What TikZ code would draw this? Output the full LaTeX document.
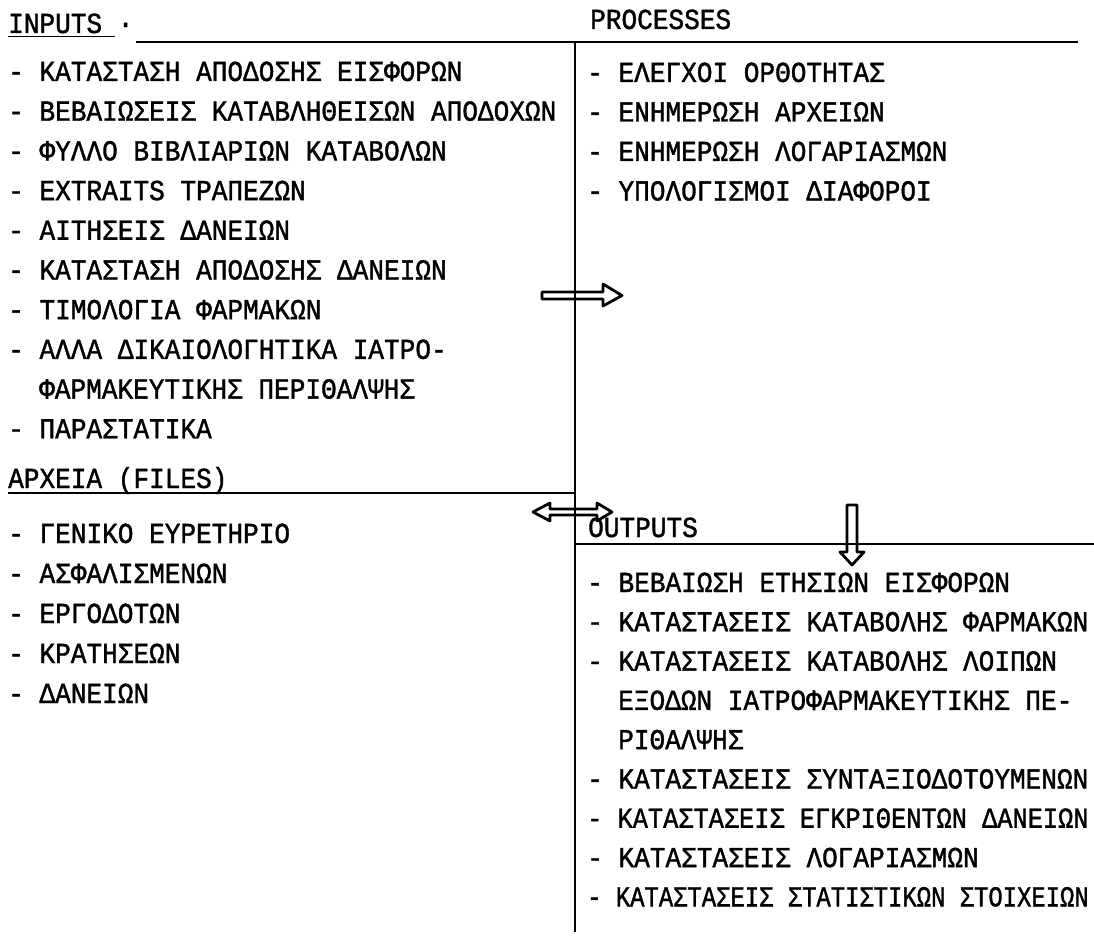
\documentclass[tikz,border=0pt]{standalone}
\usepackage{fontspec}
\newfontfamily\typewriter[FakeBold=1.3,FakeStretch=0.9]{Liberation Mono}
\tikzset{
  item/.style={anchor=base west, inner sep=0pt, font=\typewriter\fontsize{29}{34}\selectfont},
  rule/.style={line width=2pt},
  hollow arrow/.style={line width=2.8pt, line join=round},
}

\begin{document}
\begin{tikzpicture}[x=1pt,y=-1pt]
\useasboundingbox (0,0) rectangle (1094,936);
% Define coordinates
\coordinate (TL) at (136,42);
\coordinate (TR) at (1078,42);
\coordinate (VT) at (575,42);
\coordinate (VB) at (575,932);
%
\coordinate (FL) at (8,493);
\coordinate (FR) at (575,493);
\coordinate (OL) at (575,544);
\coordinate (OR) at (1094,544);
% Draw frame lines
\draw[rule] (TL) -- (TR);
\draw[rule] (VT) -- (VB);
\draw[rule] (FL) -- (FR);
\draw[rule] (OL) -- (OR);
% Inputs
\node[item] (inputs) at (8,33) {INPUTS ·};
\draw[line width=1pt] ([yshift=-4pt]inputs.base west) -- ++(107,0);
\node[item] (in1) at (8,81) {- ΚΑΤΑΣΤΑΣΗ ΑΠΟΔΟΣΗΣ ΕΙΣΦΟΡΩΝ};
\node[item] (in2) at (8,120.7) {- ΒΕΒΑΙΩΣΕΙΣ ΚΑΤΑΒΛΗΘΕΙΣΩΝ ΑΠΟΔΟΧΩΝ};
\node[item] (in3) at (8,160.4) {- ΦΥΛΛΟ ΒΙΒΛΙΑΡΙΩΝ ΚΑΤΑΒΟΛΩΝ};
\node[item] (in4) at (8,200.1) {- EXTRAITS ΤΡΑΠΕΖΩΝ};
\node[item] (in5) at (8,239.8) {- ΑΙΤΗΣΕΙΣ ΔΑΝΕΙΩΝ};
\node[item] (in6) at (8,279.5) {- ΚΑΤΑΣΤΑΣΗ ΑΠΟΔΟΣΗΣ ΔΑΝΕΙΩΝ};
\node[item] (in7) at (8,319.2) {- ΤΙΜΟΛΟΓΙΑ ΦΑΡΜΑΚΩΝ};
\node[item] (in8) at (8,358.9) {- ΑΛΛΑ ΔΙΚΑΙΟΛΟΓΗΤΙΚΑ ΙΑΤΡΟ-};
\node[item] (in9) at (39,398.6) {ΦΑΡΜΑΚΕΥΤΙΚΗΣ ΠΕΡΙΘΑΛΨΗΣ};
\node[item] (in10) at (8,438.3) {- ΠΑΡΑΣΤΑΤΙΚΑ};
% Processes
\node[item] (processes) at (590,29) {PROCESSES};
\node[item] (proc1) at (587,82) {- ΕΛΕΓΧΟΙ ΟΡΘΟΤΗΤΑΣ};
\node[item] (proc2) at (587,121.5) {- ΕΝΗΜΕΡΩΣΗ ΑΡΧΕΙΩΝ};
\node[item] (proc3) at (587,161) {- ΕΝΗΜΕΡΩΣΗ ΛΟΓΑΡΙΑΣΜΩΝ};
\node[item] (proc4) at (587,200.5) {- ΥΠΟΛΟΓΙΣΜΟΙ ΔΙΑΦΟΡΟΙ};
% Files
\node[item] (files) at (8,488) {ΑΡΧΕΙΑ (FILES)};
\node[item] (file1) at (8,543) {- ΓΕΝΙΚΟ ΕΥΡΕΤΗΡΙΟ};
\node[item] (file2) at (8,583) {- ΑΣΦΑΛΙΣΜΕΝΩΝ};
\node[item] (file3) at (8,623) {- ΕΡΓΟΔΟΤΩΝ};
\node[item] (file4) at (8,663) {- ΚΡΑΤΗΣΕΩΝ};
\node[item] (file5) at (8,703) {- ΔΑΝΕΙΩΝ};
% Outputs
\node[item] (outputs) at (588,537) {OUTPUTS};
\node[item] (out1) at (587,592) {- ΒΕΒΑΙΩΣΗ ΕΤΗΣΙΩΝ ΕΙΣΦΟΡΩΝ};
\node[item] (out2) at (587,631.3) {- ΚΑΤΑΣΤΑΣΕΙΣ ΚΑΤΑΒΟΛΗΣ ΦΑΡΜΑΚΩΝ};
\node[item] (out3) at (587,670.6) {- ΚΑΤΑΣΤΑΣΕΙΣ ΚΑΤΑΒΟΛΗΣ ΛΟΙΠΩΝ};
\node[item] (out4) at (618,709.9) {ΕΞΟΔΩΝ ΙΑΤΡΟΦΑΡΜΑΚΕΥΤΙΚΗΣ ΠΕ-};
\node[item] (out5) at (618,749.2) {ΡΙΘΑΛΨΗΣ};
\node[item] (out6) at (587,788.5) {- ΚΑΤΑΣΤΑΣΕΙΣ ΣΥΝΤΑΞΙΟΔΟΤΟΥΜΕΝΩΝ};
\node[item] (out7) at (587,827.8) {\scalebox{0.97}[1]{- ΚΑΤΑΣΤΑΣΕΙΣ ΕΓΚΡΙΘΕΝΤΩΝ ΔΑΝΕΙΩΝ}};
\node[item] (out8) at (587,867.1) {- ΚΑΤΑΣΤΑΣΕΙΣ ΛΟΓΑΡΙΑΣΜΩΝ};
\node[item] (out9) at (587,906.4) {\scalebox{0.915}[1]{- ΚΑΤΑΣΤΑΣΕΙΣ ΣΤΑΤΙΣΤΙΚΩΝ ΣΤΟΙΧΕΙΩΝ}};
% Arrows
\draw[hollow arrow] (542,292) -- (603,292) -- (603,284) -- (622,295.5)
  -- (603,306) -- (603,299) -- (542,299) -- cycle;
\draw[hollow arrow] (533,512) -- (550,503) -- (550,509) -- (597,509) -- (597,503)
  -- (612,512) -- (597,521) -- (597,515) -- (550,515) -- (550,521) -- cycle;
\draw[hollow arrow] (847,505) -- (857,505) -- (857,552) -- (864,552) -- (852,565)
  -- (840,552) -- (847,552) -- cycle;
\end{tikzpicture}
\end{document}
